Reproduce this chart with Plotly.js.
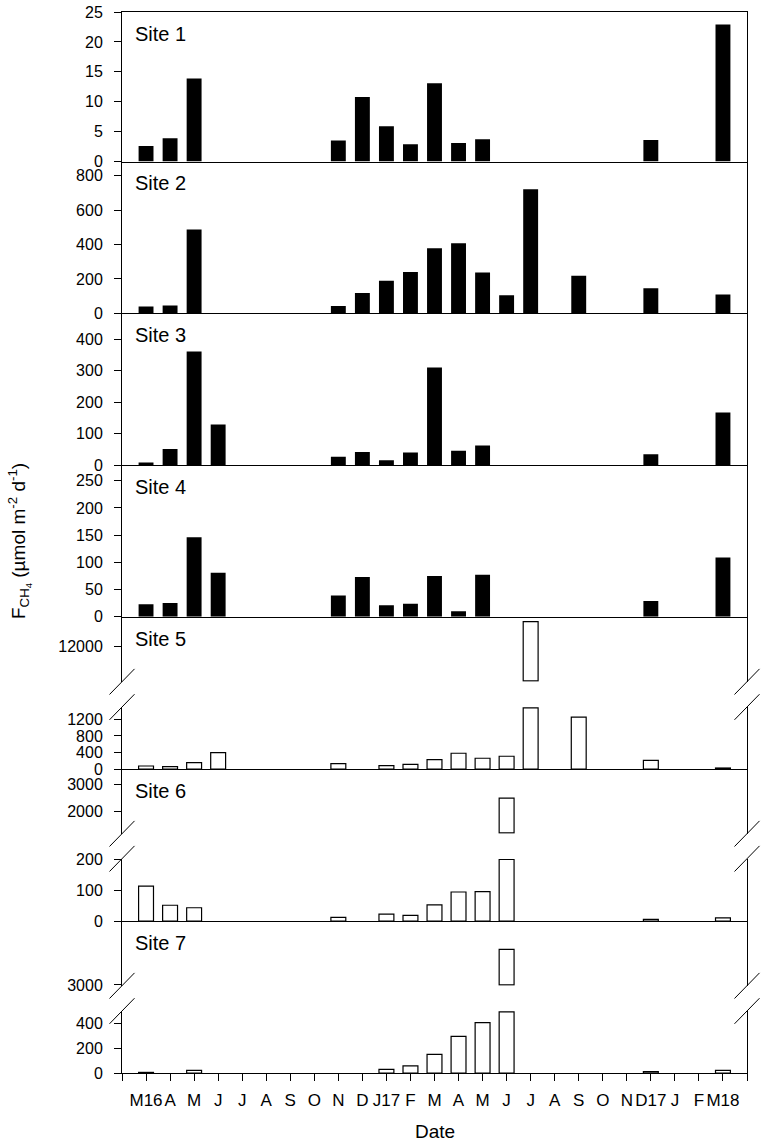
<!DOCTYPE html>
<html>
<head>
<meta charset="utf-8">
<script src="https://cdn.plot.ly/plotly-3.0.1.min.js"></script>
<style>
html, body { margin: 0; padding: 0; background: #fff; }
#chart { width: 765px; height: 1146px; }
</style>
</head>
<body>
<div id="chart"></div>
<script>
// month index 0 = Feb 2016 ... 25 = Mar 2018, 26 = right edge
const monthLabels = ['', 'M16', 'A', 'M', 'J', 'J', 'A', 'S', 'O', 'N', 'D', 'J17', 'F',
    'M', 'A', 'M', 'J', 'J', 'A', 'S', 'O', 'N', 'D17', 'J', 'F', 'M18', ''];

const site1 = [null, 2.6, 3.9, 13.9, null, null, null, null, null, 3.5, 10.8, 5.9, 2.9,
    13.1, 3.1, 3.7, null, null, null, null, null, null, 3.6, null, null, 22.9];
const site2 = [null, 39, 45, 488, null, null, null, null, null, 43, 118, 190, 240,
    378, 407, 238, 105, 721, null, 219, null, null, 145, null, null, 110];
const site3 = [null, 8, 51, 361, 129, null, null, null, null, 26, 41, 15, 40,
    310, 45, 62, null, null, null, null, null, null, 34, null, null, 167];
const site4 = [null, 23, 25, 146, 81, null, null, null, null, 39, 73, 21, 24,
    75, 10, 77, null, null, null, null, null, null, 29, null, null, 109];
const site5 = [null, 73, 57, 154, 397, null, null, null, null, 130, null, 81, 114,
    227, 381, 260, 308, 13000, null, 1257, null, null, 211, null, null, 24];
const site6 = [null, 113, 51, 43, null, null, null, null, null, 12, null, 22, 18,
    52, 94, 95, 2500, null, null, null, null, null, 5, null, null, 10];
const site7 = [null, 5, null, 22, null, null, null, null, null, null, null, 30, 58,
    151, 299, 411, 4000, null, null, null, null, null, 11, null, null, 22];

const months = site1.map((v, i) => i);
const tickPos = monthLabels.map((m, i) => i);

// plot area in pixels
const W = 765, H = 1146;
const mL = 122, mR = 18, mT = 12, mB = 73;
const plotH = H - mT - mB;
const plotW = W - mL - mR;
const py = px => (H - mB - px) / plotH;

const FONT = 'Arial, "Liberation Sans", sans-serif';

// segments: kind full / lower / upper (broken axes for sites 5-7)
const segments = [
    {site: 'Site 1', data: site1, fill: '#000', kind: 'full', top: 12, bot: 161.5, lo: 0, hi: 25, ticks: [0, 5, 10, 15, 20, 25]},
    {site: 'Site 2', data: site2, fill: '#000', kind: 'full', top: 161.5, bot: 313.3, lo: 0, hi: 883, ticks: [0, 200, 400, 600, 800]},
    {site: 'Site 3', data: site3, fill: '#000', kind: 'full', top: 313.3, bot: 465, lo: 0, hi: 482, ticks: [0, 100, 200, 300, 400]},
    {site: 'Site 4', data: site4, fill: '#000', kind: 'full', top: 465, bot: 616.7, lo: 0, hi: 279, ticks: [0, 50, 100, 150, 200, 250]},
    {data: site5, fill: '#fff', kind: 'lower', top: 707, bot: 769, lo: 0, hi: 1500, ticks: [0, 400, 800, 1200]},
    {site: 'Site 5', data: site5, fill: '#fff', kind: 'upper', top: 616.7, bot: 681.7, lo: 10600, hi: 13200, ticks: [12000]},
    {data: site6, fill: '#fff', kind: 'lower', top: 858.7, bot: 921, lo: 0, hi: 202, ticks: [0, 100, 200]},
    {site: 'Site 6', data: site6, fill: '#fff', kind: 'upper', top: 769, bot: 833.7, lo: 1180, hi: 3600, ticks: [2000, 3000]},
    {data: site7, fill: '#fff', kind: 'lower', top: 1011, bot: 1073, lo: 0, hi: 505, ticks: [0, 200, 400], bottom: true},
    {site: 'Site 7', data: site7, fill: '#fff', kind: 'upper', top: 921, bot: 985.7, lo: 3000, hi: 4800, ticks: [3000]}
];

const data = [];
const layout = {
    width: W, height: H,
    margin: {l: mL, r: mR, t: mT, b: mB},
    paper_bgcolor: '#fff',
    plot_bgcolor: '#fff',
    showlegend: false,
    hovermode: false,
    font: {family: FONT, size: 16, color: '#000'},
    annotations: [],
    shapes: []
};

segments.forEach((s, i) => {
    const n = i + 1;
    const unitPerPx = (s.hi - s.lo) / (s.bot - s.top);
    let y = s.data, base, range = [s.lo, s.hi];
    if (s.kind === 'lower') {
        // tall bars stop at the top of the lower piece
        const cap = s.hi - unitPerPx * 0.8;
        y = s.data.map(v => v == null ? null : Math.min(v, cap));
    } else if (s.kind === 'upper') {
        y = s.data.map(v => (v != null && v > s.lo) ? v - s.lo : null);
        base = s.lo;
        range = [s.lo - unitPerPx * 0.8, s.hi];
    }
    const trace = {
        type: 'bar',
        x: months,
        y: y,
        width: 0.62,
        xaxis: 'x' + n,
        yaxis: 'y' + n,
        marker: {
            color: s.fill,
            line: {color: '#000', width: s.fill === '#000' ? 0 : 1.2}
        }
    };
    if (base !== undefined) trace.base = base;
    data.push(trace);

    const sfx = n === 1 ? '' : n;
    layout['yaxis' + sfx] = {
        domain: [py(s.bot), py(s.top)],
        anchor: 'x' + n,
        range: range,
        tickmode: 'array',
        tickvals: s.ticks,
        tickformat: 'd',
        ticks: 'outside',
        ticklen: 7,
        tickwidth: 1,
        tickcolor: '#000',
        ticklabelstandoff: 8,
        showline: true,
        linecolor: '#000',
        linewidth: 1,
        mirror: true,
        showgrid: false,
        zeroline: false,
        fixedrange: true,
        tickfont: {family: FONT, size: 16, color: '#000'}
    };
    layout['xaxis' + sfx] = {
        domain: [0, 1],
        anchor: 'y' + n,
        range: [0, 26],
        showline: s.kind !== 'upper',
        linecolor: '#000',
        linewidth: 1,
        mirror: n === 1,
        showgrid: false,
        zeroline: false,
        fixedrange: true,
        tickmode: 'array',
        tickvals: s.bottom ? tickPos : [],
        ticktext: s.bottom ? monthLabels : [],
        tickangle: 0,
        ticks: s.bottom ? 'outside' : '',
        ticklen: 7,
        tickwidth: 1,
        tickcolor: '#000',
        ticklabelstandoff: 5,
        showticklabels: !!s.bottom,
        tickfont: {family: FONT, size: 17, color: '#000'}
    };

    if (s.site) {
        layout.annotations.push({
            xref: 'paper', yref: 'paper',
            x: 11 / plotW, y: py(s.top + 22),
            xanchor: 'left', yanchor: 'middle',
            text: s.site, showarrow: false,
            font: {family: FONT, size: 20, color: '#000'}
        });
    }

    // axis break marks
    if (s.kind !== 'full') {
        const yEdge = s.kind === 'upper' ? s.bot : s.top;
        [0, 1].forEach(xe => {
            layout.shapes.push({
                type: 'line', xref: 'paper', yref: 'paper',
                x0: xe - 12.5 / plotW, x1: xe + 12.5 / plotW,
                y0: py(yEdge + 12.8), y1: py(yEdge - 12.8),
                line: {color: '#000', width: 1}
            });
        });
    }
});

layout.annotations.push({
    xref: 'paper', yref: 'paper',
    x: (19 - mL) / plotW, y: py(541),
    xanchor: 'center', yanchor: 'middle',
    textangle: -90,
    text: 'F<sub>CH<sub>4</sub></sub> (µmol m<sup>-2</sup> d<sup>-1</sup>)',
    showarrow: false,
    font: {family: FONT, size: 19, color: '#000'}
});
layout.annotations.push({
    xref: 'paper', yref: 'paper',
    x: 0.5, y: py(1131),
    xanchor: 'center', yanchor: 'middle',
    text: 'Date', showarrow: false,
    font: {family: FONT, size: 19, color: '#000'}
});

Plotly.newPlot('chart', data, layout, {staticPlot: true, responsive: false});
</script>
</body>
</html>
